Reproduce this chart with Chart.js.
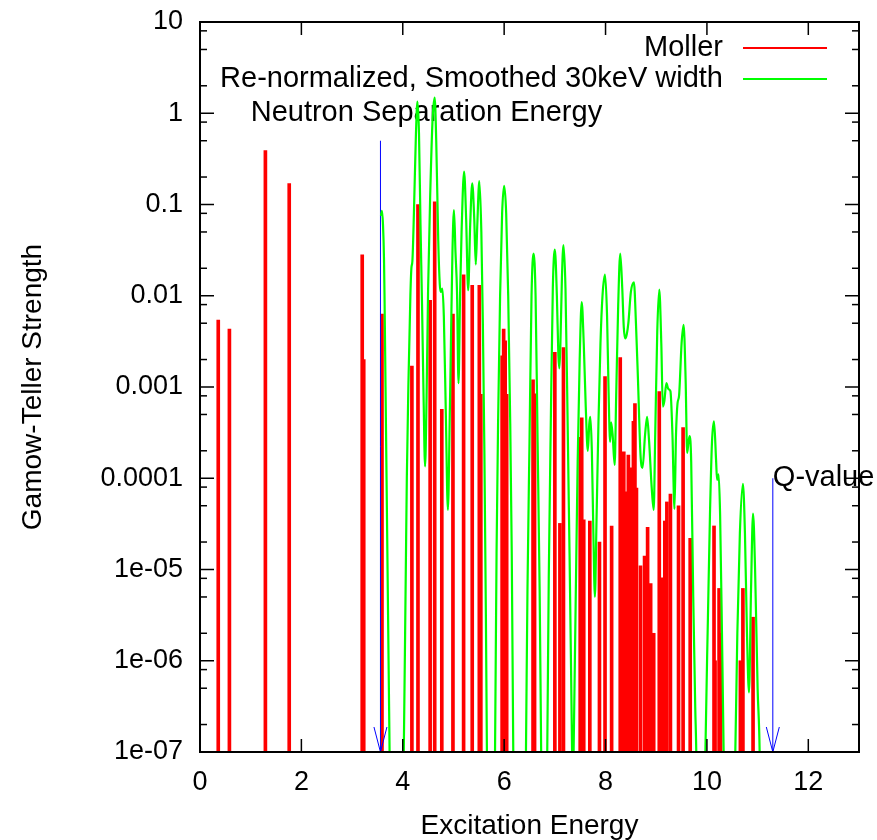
<!DOCTYPE html>
<html>
<head>
<meta charset="utf-8">
<title>Gamow-Teller Strength</title>
<script src="https://cdn.jsdelivr.net/npm/chart.js@4.4.1/dist/chart.umd.min.js"></script>
<style>
  html, body { margin: 0; padding: 0; background: #fff; }
  #chart { display: block; }
</style>
</head>
<body>
<canvas id="chart" width="877" height="840"></canvas>
<script>
// --- dados ---
// Moller: energias (MeV) e forca GT de cada impulso
const mollerE = [0.36, 0.58, 1.29, 1.76, 3.20, 3.23, 3.59, 4.18, 4.30, 4.54, 4.63, 4.77, 4.99, 5.20, 5.37, 5.51, 5.54,
  5.96, 5.99, 6.02, 6.05, 6.57, 6.60, 7.00, 7.10, 7.17, 7.50, 7.53, 7.57, 7.69, 7.88, 7.99, 8.12, 8.29, 8.34, 8.36,
  8.40, 8.45, 8.49, 8.51, 8.55, 8.58, 8.61, 8.69, 8.77, 8.83, 8.89, 8.95, 9.06, 9.11, 9.17, 9.21, 9.28, 9.44, 9.53,
  9.67, 10.14, 10.16, 10.24, 10.27, 10.66, 10.71, 10.91];
const mollerS = [0.0054, 0.0043, 0.39, 0.17, 0.028, 0.002, 0.0063, 0.0017, 0.10, 0.0089, 0.107, 5.7e-4, 0.0063, 0.017,
  0.013, 0.013, 8.3e-4, 0.0022, 0.0043, 0.0032, 8.3e-4, 0.0012, 8.4e-4, 0.0024, 3.2e-5, 0.0027, 2.8e-4, 4.6e-4, 3.5e-5,
  3.4e-5, 2.0e-5, 0.0013, 3.0e-5, 0.0021, 1.1e-5, 1.95e-4, 7.1e-5, 1.8e-4, 5.3e-5, 1.3e-4, 4.2e-4, 6.6e-4, 7.8e-5,
  1.1e-5, 1.4e-5, 2.9e-5, 7.0e-6, 2.0e-6, 8.9e-4, 8.1e-6, 3.4e-5, 5.5e-5, 6.7e-5, 5.0e-5, 3.6e-4, 2.2e-5, 3.0e-5,
  1.0e-6, 6.2e-6, 2.0e-6, 1.0e-6, 6.2e-6, 3.0e-6];

// curva suavizada (30keV)
const smoothE = [3.57, 3.59, 3.61, 3.63, 3.64, 3.66, 3.68, 3.70, 3.72, 3.74, 3.76,
  3.99, 4.02, 4.06, 4.08, 4.11, 4.15, 4.17, 4.19, 4.22, 4.26, 4.29, 4.32, 4.35, 4.38, 4.41, 4.44, 4.47, 4.50, 4.54,
  4.59, 4.63, 4.66, 4.70, 4.73, 4.75, 4.78, 4.81, 4.85, 4.89, 4.93, 4.95, 4.98, 5.01, 5.04, 5.07, 5.10, 5.13, 5.16,
  5.21, 5.25, 5.29, 5.33, 5.37, 5.41, 5.44, 5.47, 5.51, 5.55, 5.58, 5.61, 5.64, 5.66, 5.68,
  5.80, 5.82, 5.85, 5.88, 5.92, 5.96, 6.00, 6.04, 6.08, 6.12, 6.15, 6.18, 6.20,
  6.41, 6.43, 6.46, 6.50, 6.54, 6.58, 6.62, 6.66, 6.70, 6.73, 6.75,
  6.83, 6.85, 6.88, 6.92, 6.96, 7.00, 7.04, 7.07, 7.09, 7.11, 7.14, 7.17, 7.21, 7.25, 7.29, 7.32, 7.34, 7.355,
  7.37, 7.41, 7.45, 7.49, 7.53, 7.57, 7.61, 7.65, 7.68, 7.70, 7.73, 7.76, 7.79, 7.82, 7.86, 7.90, 7.94, 7.99, 8.03,
  8.06, 8.09, 8.11, 8.14, 8.18, 8.21, 8.25, 8.29, 8.33, 8.36, 8.39, 8.42, 8.45, 8.50, 8.56, 8.60, 8.64, 8.69, 8.73,
  8.78, 8.82, 8.86, 8.91, 8.95, 8.98, 9.02, 9.06, 9.10, 9.13, 9.16, 9.20, 9.24, 9.28, 9.32, 9.36, 9.39, 9.42, 9.45,
  9.50, 9.54, 9.58, 9.61, 9.64, 9.66, 9.69, 9.73, 9.77, 9.79, 9.81,
  9.95, 9.97, 10.02, 10.06, 10.10, 10.14, 10.18, 10.20, 10.23, 10.26, 10.30, 10.33, 10.35,
  10.54, 10.56, 10.60, 10.65, 10.71, 10.75, 10.79, 10.83, 10.87, 10.91, 10.95, 11.00, 11.04, 11.06];
const smoothS = [0.075, 0.085, 0.06, 0.025, 0.01, 0.001, 1e-4, 1e-5, 1e-6, 1e-7, 1e-8,
  1e-8, 1e-7, 1e-5, 1e-4, 0.001, 0.01, 0.02, 0.024, 0.08, 0.6, 1.34, 0.6, 0.06, 0.008, 8e-4, 1.35e-4, 8e-4, 0.012, 0.12,
  0.9, 1.48, 0.5, 0.04, 0.0134, 0.011, 0.012, 0.006, 5e-4, 4.5e-5, 6e-4, 0.003, 0.03, 0.087, 0.03, 0.011, 0.0011, 0.01, 0.05,
  0.23, 0.07, 0.0115, 0.06, 0.17, 0.07, 0.022, 0.06, 0.18, 0.05, 0.005, 2e-4, 3e-6, 1e-7, 1e-8,
  1e-8, 1e-7, 1.5e-5, 4e-4, 0.01, 0.08, 0.16, 0.08, 0.01, 4e-4, 1.5e-5, 1e-7, 1e-8,
  1e-8, 1e-7, 6e-6, 2.5e-4, 0.01, 0.029, 0.01, 2.5e-4, 6e-6, 1e-7, 1e-8,
  1e-8, 1e-7, 8e-6, 4e-4, 0.012, 0.032, 0.01, 0.0022, 0.0016, 0.003, 0.016, 0.036, 0.012, 5e-4, 1.5e-5, 8e-7, 1e-7, 3e-8,
  1e-7, 4e-6, 1.5e-4, 0.002, 0.0085, 0.003, 6e-4, 2e-4, 4e-4, 4.7e-4, 2e-4, 2.5e-5, 5e-6, 3e-5, 4e-4, 0.003, 0.01, 0.017, 0.006,
  9e-4, 2.5e-4, 4.1e-4, 3e-4, 1.4e-4, 8e-4, 0.008, 0.029, 0.012, 0.0045, 0.0034, 0.0038, 0.005, 0.011, 0.014, 0.005, 0.0012, 1.8e-4, 1.3e-4,
  3e-4, 4.7e-4, 2.5e-4, 8e-5, 4.5e-5, 3e-4, 0.004, 0.0117, 0.003, 6.1e-4, 7e-4, 0.0011, 9.5e-4, 9e-4, 3e-4, 4.6e-5, 3e-4, 6.6e-4, 8e-4,
  0.003, 0.0048, 0.0012, 1.9e-4, 2.6e-4, 2.9e-4, 1.5e-4, 5e-6, 3e-7, 1e-7, 1e-8,
  1e-8, 1e-7, 3e-6, 4e-5, 2.5e-4, 4.2e-4, 1.6e-4, 9.6e-5, 1.1e-4, 4e-5, 1.5e-6, 1e-7, 1e-8,
  1e-8, 1e-7, 2e-6, 2.5e-5, 8.7e-5, 2.5e-5, 2e-6, 4.5e-7, 6e-6, 4.1e-5, 1e-5, 5e-7, 1e-7, 1e-8];

// setas (energia de separacao de neutron e valor Q)
const arrowE = [3.56, 11.30];
const arrowTop = [0.5, 1e-4];
const labelTexts = ['Neutron Separation Energy', 'Q-value'];
const labelE = [1, 11.30];
const labelS = [1, 1e-4];

// legenda na ordem do gnuplot
const legendLabels = ['Moller', 'Re-normalized, Smoothed 30keV width'];

// eixos
const xTicks = [0, 2, 4, 6, 8, 10, 12];
const yTicks = [1e-7, 1e-6, 1e-5, 1e-4, 1e-3, 1e-2, 1e-1, 1, 10];
const yTickLabels = ['1e-07', '1e-06', '1e-05', '0.0001', '0.001', '0.01', '0.1', '1', '10'];
const yMinorSteps = [2, 5, 8];

const FONT = "'Liberation Sans', Arial, sans-serif";
const corVermelho = '#ff0000';
const corVerde = '#00ff00';
const corAzul = '#0000ff';

Chart.defaults.font.family = FONT;
Chart.defaults.font.size = 27;
Chart.defaults.color = '#000';

const pontos = (xs, ys) => xs.map((v, i) => ({ x: v, y: ys[i] }));

// moldura, marcas dos eixos, pontas das setas, legenda e textos
const decoracao = {
    id: 'decoracao',
    beforeDatasetsDraw(chart) {
        const { ctx, scales: { x, y } } = chart;
        ctx.save();
        ctx.font = '29px ' + FONT;
        ctx.fillStyle = '#000';
        ctx.textAlign = 'left';
        ctx.textBaseline = 'middle';
        labelTexts.forEach((t, i) => {
            ctx.fillText(t, x.getPixelForValue(labelE[i]), y.getPixelForValue(labelS[i]));
        });
        ctx.restore();
    },
    afterDatasetsDraw(chart) {
        const { ctx, chartArea: a, scales: { x, y } } = chart;
        ctx.save();

        // pontas das setas (abertas, em V)
        ctx.strokeStyle = corAzul;
        ctx.lineWidth = 1;
        arrowE.forEach(e => {
            const px = x.getPixelForValue(e);
            const py = y.getPixelForValue(yTicks[0]);
            ctx.beginPath();
            ctx.moveTo(px - 6.5, py - 25);
            ctx.lineTo(px, py);
            ctx.lineTo(px + 6.5, py - 25);
            ctx.stroke();
        });

        // marcas
        ctx.strokeStyle = '#000';
        ctx.lineWidth = 1.5;
        const linha = (x1, y1, x2, y2) => {
            ctx.beginPath(); ctx.moveTo(x1, y1); ctx.lineTo(x2, y2); ctx.stroke();
        };
        xTicks.forEach(v => {
            const px = x.getPixelForValue(v);
            linha(px, a.bottom, px, a.bottom - 13);
            linha(px, a.top, px, a.top + 13);
        });
        yTicks.forEach((v, i) => {
            const py = y.getPixelForValue(v);
            linha(a.left, py, a.left + 14, py);
            linha(a.right, py, a.right - 14, py);
            if (i < yTicks.length - 1) {
                yMinorSteps.forEach(m => {
                    const pm = y.getPixelForValue(v * m);
                    linha(a.left, pm, a.left + 7, pm);
                    linha(a.right, pm, a.right - 7, pm);
                });
            }
        });

        // moldura
        ctx.lineWidth = 2;
        ctx.strokeRect(a.left, a.top, a.right - a.left, a.bottom - a.top);

        // legenda (estilo gnuplot, texto alinhado a direita)
        ctx.font = '29px ' + FONT;
        ctx.textAlign = 'right';
        ctx.textBaseline = 'middle';
        legendLabels.forEach((lbl, i) => {
            const d = chart.data.datasets.find(ds => ds.label === lbl);
            const ly = 48 + i * 31;
            ctx.fillStyle = '#000';
            ctx.fillText(lbl, 723, ly);
            ctx.strokeStyle = d.borderColor;
            ctx.lineWidth = 2;
            linha(743, ly, 827, ly);
        });
        ctx.restore();
    }
};

new Chart(document.getElementById('chart'), {
    type: 'bar',
    data: {
        datasets: [
            {
                type: 'line',
                label: 'Re-normalized, Smoothed 30keV width',
                data: pontos(smoothE, smoothS),
                borderColor: corVerde,
                borderWidth: 2.2,
                pointRadius: 0,
                cubicInterpolationMode: 'monotone',
                order: 0
            },
            {
                type: 'line',
                label: 'Sn',
                data: pontos([arrowE[0], arrowE[0]], [yTicks[0], arrowTop[0]]),
                borderColor: corAzul,
                borderWidth: 1,
                pointRadius: 0,
                order: 1
            },
            {
                type: 'line',
                label: 'Q',
                data: pontos([arrowE[1], arrowE[1]], [yTicks[0], arrowTop[1]]),
                borderColor: corAzul,
                borderWidth: 1,
                pointRadius: 0,
                order: 1
            },
            {
                type: 'bar',
                label: 'Moller',
                data: pontos(mollerE, mollerS),
                backgroundColor: corVermelho,
                borderColor: corVermelho,
                borderWidth: 0,
                barThickness: 3,
                order: 2
            }
        ]
    },
    options: {
        responsive: false,
        animation: false,
        events: [],
        layout: { padding: { top: 22, right: 18, left: 0, bottom: 0 } },
        plugins: { legend: { display: false }, tooltip: { enabled: false } },
        scales: {
            x: {
                type: 'linear',
                min: 0,
                max: 13,
                offset: false,
                afterBuildTicks: s => { s.ticks = xTicks.map(v => ({ value: v })); },
                afterFit: s => { s.height = 88; s.paddingLeft = 0; s.paddingRight = 0; },
                grid: { display: false, drawTicks: false, offset: false },
                border: { display: false },
                ticks: { padding: 14, autoSkip: false, maxRotation: 0, callback: v => String(v) },
                title: { display: true, text: 'Excitation Energy', font: { size: 28, lineHeight: 1 }, padding: { top: 0, bottom: 0 } }
            },
            y: {
                type: 'logarithmic',
                min: 1e-7,
                max: 10,
                afterBuildTicks: s => { s.ticks = yTicks.map(v => ({ value: v })); },
                afterFit: s => { s.width = 200; s.paddingTop = 0; s.paddingBottom = 0; },
                grid: { display: false, drawTicks: false },
                border: { display: false },
                ticks: { padding: 17, autoSkip: false, callback: (v, i) => yTickLabels[i] },
                title: { display: true, text: 'Gamow-Teller Strength', font: { size: 28, lineHeight: 1 }, padding: { top: 19, bottom: 0 } }
            }
        }
    },
    plugins: [decoracao]
});
</script>
</body>
</html>
